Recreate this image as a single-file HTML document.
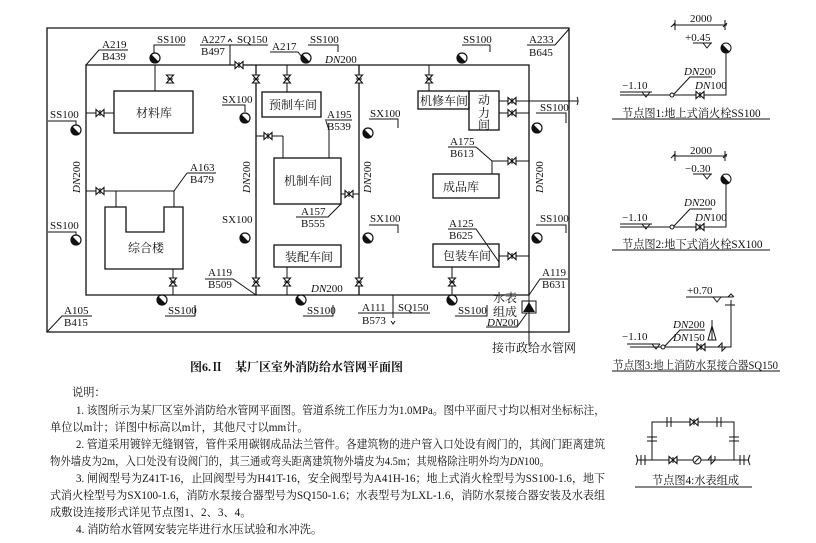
<!DOCTYPE html>
<html><head><meta charset="utf-8"><style>
html,body{margin:0;padding:0;background:#fff;}
svg{display:block;}
text{font-family:"Liberation Serif","Noto Serif CJK SC","Noto Sans CJK SC",serif;fill:#111;}
.l{font-size:11px;}
.c{font-size:12px;}
.n{font-size:11.2px;}
</style></head><body>
<svg width="816" height="543" viewBox="0 0 816 543" xmlns="http://www.w3.org/2000/svg">
<defs>
<g id="vh"><path d="M-4,-3.5 L4,3.5 L4,-3.5 L-4,3.5 Z" fill="#fff" stroke="#111" stroke-width="1.1"/><line x1="0" y1="-3" x2="0" y2="3" stroke="#111"/></g>
<g id="vv"><path d="M-3.5,-4 L3.5,4 L-3.5,4 L3.5,-4 Z" fill="#fff" stroke="#111" stroke-width="1.1"/><line x1="-3" y1="0" x2="3" y2="0" stroke="#111"/></g>
<g id="hy"><circle r="5" fill="#fff" stroke="#111" stroke-width="1.2"/><path d="M-3.6,-3.6 A5,5 0 0,0 3.6,3.6 Z" fill="#111"/></g>
</defs>
<g stroke="#111" stroke-width="1.3" fill="none">
<path d="M47,28 H569 V332 H47 Z"/>
<path d="M86,65 H529 V295 H86 Z"/>
<line x1="256" y1="65" x2="256" y2="295"/>
<line x1="359" y1="65" x2="359" y2="295"/>
<rect x="114" y="91" width="79" height="42"/>
<rect x="262" y="92" width="59" height="25"/>
<rect x="274" y="158" width="67" height="46"/>
<rect x="274" y="245" width="67" height="22"/>
<path d="M105,207 H126 V232 H164 V207 H183 V269 H105 Z"/>
<rect x="418" y="91" width="51" height="18"/>
<rect x="469" y="91" width="30" height="39"/>
<rect x="433" y="174" width="66" height="24"/>
<rect x="433" y="244" width="66" height="23"/>
</g>
<g stroke="#111" stroke-width="1" fill="none">
<line x1="155" y1="65" x2="155" y2="91"/>
<line x1="86" y1="113" x2="114" y2="113"/>
<line x1="86" y1="191" x2="174" y2="191"/>
<line x1="116" y1="191" x2="116" y2="207"/>
<line x1="174" y1="191" x2="174" y2="207"/>
<line x1="173" y1="269" x2="173" y2="295"/>
<line x1="287" y1="65" x2="287" y2="92"/>
<line x1="256" y1="136" x2="283" y2="136"/>
<line x1="283" y1="136" x2="283" y2="158"/>
<line x1="329" y1="130" x2="329" y2="158"/>
<line x1="341" y1="194" x2="359" y2="194"/>
<line x1="287" y1="267" x2="287" y2="295"/>
<line x1="429" y1="65" x2="429" y2="91"/>
<line x1="499" y1="101" x2="578" y2="101"/>
<line x1="499" y1="113" x2="529" y2="113"/>
<line x1="492" y1="161" x2="529" y2="161"/>
<line x1="492" y1="161" x2="492" y2="174"/>
<line x1="499" y1="256" x2="529" y2="256"/>
<line x1="452" y1="267" x2="452" y2="295"/>
<line x1="529" y1="295" x2="529" y2="345"/>
<line x1="230" y1="45" x2="230" y2="65"/>
<line x1="393" y1="295" x2="393" y2="318"/>
<path d="M86,65 L99,50 H128"/>
<path d="M185,45 H154 V53"/>
<path d="M200,45 H268"/>
<path d="M270,52 H298 L306,62"/>
<path d="M308,45 H338 V52"/>
<path d="M462,45 H490 V52"/>
<path d="M527,45 H555 L569,29"/>
<path d="M48,121 H76 V125"/>
<path d="M48,232 H76 V235"/>
<path d="M222,105 H245 V112"/>
<path d="M369,119 H398 V128"/>
<path d="M369,225 H398 V233"/>
<path d="M536,113 H566 V123"/>
<path d="M536,225 H566 V233"/>
<path d="M325,120 H352 M326,121 L329,130"/>
<path d="M187,173 H216 M187,173 L174,191"/>
<path d="M296,217 H328 L341,204"/>
<path d="M448,147 H476 L492,161"/>
<path d="M448,229 H476 L499,262"/>
<path d="M205,279 H233 L256,295"/>
<path d="M529,295 L540,279 H568"/>
<path d="M358,313 H430"/>
<path d="M165,316 H195 V305"/>
<path d="M303,316 H333 V305"/>
<path d="M455,316 H487 V305"/>
<path d="M47,332 L62,316 H92"/>
<path d="M486,327 H517 L527,313"/>
<path d="M228,42 l2,-3 l2,3 M391,321 l2,3 l2,-3 M577,97 q2,4 0,8"/>
</g>
<use href="#vv" x="170" y="79"/>
<use href="#vh" x="239" y="65"/>
<use href="#vv" x="256" y="79"/>
<use href="#vv" x="287" y="79"/>
<use href="#vv" x="359" y="79"/>
<use href="#vv" x="429" y="79"/>
<use href="#vh" x="100" y="113"/>
<use href="#vh" x="268" y="136"/>
<use href="#vh" x="512" y="101"/>
<use href="#vh" x="512" y="113"/>
<use href="#vh" x="512" y="161"/>
<use href="#vh" x="100" y="191"/>
<use href="#vh" x="349" y="194"/>
<use href="#vh" x="512" y="256"/>
<use href="#vv" x="173" y="282"/>
<use href="#vv" x="256" y="282"/>
<use href="#vv" x="287" y="282"/>
<use href="#vv" x="359" y="282"/>
<use href="#vv" x="452" y="282"/>
<use href="#hy" x="155" y="58"/>
<use href="#hy" x="306" y="58"/>
<use href="#hy" x="462" y="58"/>
<use href="#hy" x="76" y="130"/>
<use href="#hy" x="76" y="240"/>
<use href="#hy" x="245" y="118"/>
<use href="#hy" x="245" y="238"/>
<use href="#hy" x="368" y="133"/>
<use href="#hy" x="368" y="238"/>
<use href="#hy" x="537" y="128"/>
<use href="#hy" x="537" y="238"/>
<use href="#hy" x="162" y="300"/>
<use href="#hy" x="301" y="300"/>
<use href="#hy" x="452" y="300"/>
<path d="M523,312 L529,302 L535,312 Z" fill="#111"/>
<rect x="522" y="301" width="14" height="12" fill="none" stroke="#111"/>
<g class="l">
<text x="102" y="48">A219</text><text x="102" y="60">B439</text>
<text x="157" y="43">SS100</text>
<text x="201" y="43">A227</text><text x="237" y="43">SQ150</text><text x="201" y="55">B497</text>
<text x="272" y="50">A217</text>
<text x="310" y="43">SS100</text>
<text x="325" y="63"><tspan font-style="italic">DN</tspan>200</text>
<text x="463" y="43">SS100</text>
<text x="529" y="43">A233</text><text x="529" y="56">B645</text>
<text x="50" y="118">SS100</text>
<text x="222" y="103">SX100</text>
<text x="327" y="118">A195</text><text x="327" y="130">B539</text>
<text x="370" y="117">SX100</text>
<text x="540" y="111">SS100</text>
<text x="450" y="145">A175</text><text x="450" y="157">B613</text>
<text x="190" y="171">A163</text><text x="190" y="183">B479</text>
<text x="50" y="229">SS100</text>
<text x="222" y="223">SX100</text>
<text x="301" y="215">A157</text><text x="301" y="227">B555</text>
<text x="370" y="222">SX100</text>
<text x="449" y="227">A125</text><text x="449" y="239">B625</text>
<text x="540" y="222">SS100</text>
<text x="208" y="276">A119</text><text x="208" y="288">B509</text>
<text x="311" y="292"><tspan font-style="italic">DN</tspan>200</text>
<text x="542" y="276">A119</text><text x="542" y="288">B631</text>
<text x="168" y="314">SS100</text>
<text x="307" y="314">SS100</text>
<text x="458" y="314">SS100</text>
<text x="362" y="311">A111</text><text x="398" y="311">SQ150</text><text x="362" y="324">B573</text>
<text x="487" y="326"><tspan font-style="italic">DN</tspan>200</text>
<text x="64" y="314">A105</text><text x="64" y="326">B415</text>
<text transform="translate(80,193) rotate(-90)"><tspan font-style="italic">DN</tspan>200</text>
<text transform="translate(250,193) rotate(-90)"><tspan font-style="italic">DN</tspan>200</text>
<text transform="translate(371,193) rotate(-90)"><tspan font-style="italic">DN</tspan>200</text>
<text transform="translate(543,193) rotate(-90)"><tspan font-style="italic">DN</tspan>200</text>
</g>
<g class="c">
<text x="136" y="117">材料库</text>
<text x="269" y="109">预制车间</text>
<text x="284" y="185">机制车间</text>
<text x="285" y="261">装配车间</text>
<text x="128" y="252">综合楼</text>
<text x="420" y="105">机修车间</text>
<text x="478" y="104">动</text><text x="478" y="117">力</text><text x="478" y="129">间</text>
<text x="443" y="191">成品库</text>
<text x="443" y="260">包装车间</text>
<text x="493" y="302">水表</text><text x="493" y="316">组成</text>
<text x="492" y="352">接市政给水管网</text>
</g>
<text x="190" y="371" style="font-size:12px;font-weight:bold">图6.Ⅱ　某厂区室外消防给水管网平面图</text>
<g class="n">
<text x="72" y="396">说明：</text>
<text x="76" y="414" textLength="529" lengthAdjust="spacingAndGlyphs">1. 该图所示为某厂区室外消防给水管网平面图。管道系统工作压力为1.0MPa。图中平面尺寸均以相对坐标标注，</text>
<text x="50" y="431">单位以m计；详图中标高以m计，其他尺寸以mm计。</text>
<text x="76" y="448" textLength="529" lengthAdjust="spacingAndGlyphs">2. 管道采用镀锌无缝钢管，管件采用碳钢成品法兰管件。各建筑物的进户管入口处设有阀门的，其阀门距离建筑</text>
<text x="50" y="465" textLength="500" lengthAdjust="spacingAndGlyphs">物外墙皮为2m，入口处没有设阀门的，其三通或弯头距离建筑物外墙皮为4.5m；其规格除注明外均为<tspan font-style="italic">DN</tspan>100。</text>
<text x="76" y="482" textLength="529" lengthAdjust="spacingAndGlyphs">3. 闸阀型号为Z41T-16，止回阀型号为H41T-16，安全阀型号为A41H-16；地上式消火栓型号为SS100-1.6，地下</text>
<text x="50" y="499" textLength="555" lengthAdjust="spacingAndGlyphs">式消火栓型号为SX100-1.6，消防水泵接合器型号为SQ150-1.6；水表型号为LXL-1.6，消防水泵接合器安装及水表组</text>
<text x="50" y="516">成敷设连接形式详见节点图1、2、3、4。</text>
<text x="76" y="533">4. 消防给水管网安装完毕进行水压试验和水冲洗。</text>
</g>
<g stroke="#111" stroke-width="1" fill="none">
<path d="M673,25 H727 M675,20 V30 M725,20 V30 M671,27 l4,-4 M723,27 l4,-4"/>
<path d="M693,43 H712 M703,43 l4,5 l4,-5"/>
<path d="M726,48 V95 H620 M620,92 H652 M642,92 l4,5 l4,-5 M673,95 L690,77 H712"/>
<circle cx="672" cy="95" r="2" fill="#fff"/>
<path d="M612,119 H770"/>
<path d="M673,156 H727 M675,151 V161 M725,151 V161 M671,158 l4,-4 M723,158 l4,-4"/>
<path d="M693,174 H712 M703,174 l4,5 l4,-5"/>
<path d="M726,179 V227 H620 M620,224 H652 M642,224 l4,5 l4,-5 M673,227 L690,209 H712"/>
<circle cx="672" cy="227" r="2" fill="#fff"/>
<path d="M612,250 H770"/>
<path d="M686,297 H733 M713,297 l4,5 l4,-5 M731,300 V347 H630 M627,344 H660 M652,344 l4,5 l4,-5 M664,347 L680,330 H705 M725,305 h10 M728,297 l3,-3 l3,3"/>
<path d="M712,320 V340 M708,340 L712,326 L716,340 Z"/>
<path d="M718,347 l4,-4 v8 l4,-4"/>
<circle cx="663" cy="347" r="2" fill="#fff"/>
<path d="M612,371 H780"/>
<path d="M652,460 V422 H734 V460 M637,460 H749"/>
<path d="M667,417 V427 M671,417 V427 M717,417 V427 M721,417 V427"/>
<path d="M647,437 H657 M647,441 H657 M729,437 H739 M729,441 H739"/>
<path d="M641,455 V465 M645,455 V465 M740,455 V465 M744,455 V465 M636,455 q3,5 0,10 M750,455 q-3,5 0,10"/>
<circle cx="697" cy="460" r="4" fill="#fff"/><path d="M694,463 L700,457"/>
<path d="M708,460 l3,-4 v8 l4,-4 v-4"/>
<path d="M635,487 H752"/>
</g>
<use href="#vh" x="700" y="95"/>
<use href="#vh" x="700" y="227"/>
<use href="#vh" x="701" y="347"/>
<use href="#vh" x="694" y="422"/>
<use href="#vh" x="673" y="460"/>
<circle cx="726" cy="48" r="5" fill="#fff" stroke="#111"/><path d="M722.4,44.4 A5,5 0 0,0 729.6,51.6 Z" fill="#111"/>
<circle cx="726" cy="179" r="5" fill="#fff" stroke="#111"/><path d="M722.4,175.4 A5,5 0 0,0 729.6,182.6 Z" fill="#111"/>
<g class="l">
<text x="690" y="22">2000</text>
<text x="685" y="41">+0.45</text>
<text x="622" y="89">−1.10</text>
<text x="684" y="75"><tspan font-style="italic">DN</tspan>200</text>
<text x="695" y="89"><tspan font-style="italic">DN</tspan>100</text>
<text x="690" y="154">2000</text>
<text x="685" y="172">−0.30</text>
<text x="622" y="221">−1.10</text>
<text x="684" y="206"><tspan font-style="italic">DN</tspan>200</text>
<text x="695" y="221"><tspan font-style="italic">DN</tspan>100</text>
<text x="687" y="294">+0.70</text>
<text x="622" y="340">−1.10</text>
<text x="673" y="328"><tspan font-style="italic">DN</tspan>200</text>
<text x="673" y="341"><tspan font-style="italic">DN</tspan>150</text>
</g>
<g class="n">
<text x="622" y="117">节点图1:地上式消火栓SS100</text>
<text x="622" y="248">节点图2:地下式消火栓SX100</text>
<text x="613" y="369" textLength="165" lengthAdjust="spacingAndGlyphs">节点图3:地上消防水泵接合器SQ150</text>
<text x="652" y="484">节点图4:水表组成</text>
</g>
</svg>
</body></html>
